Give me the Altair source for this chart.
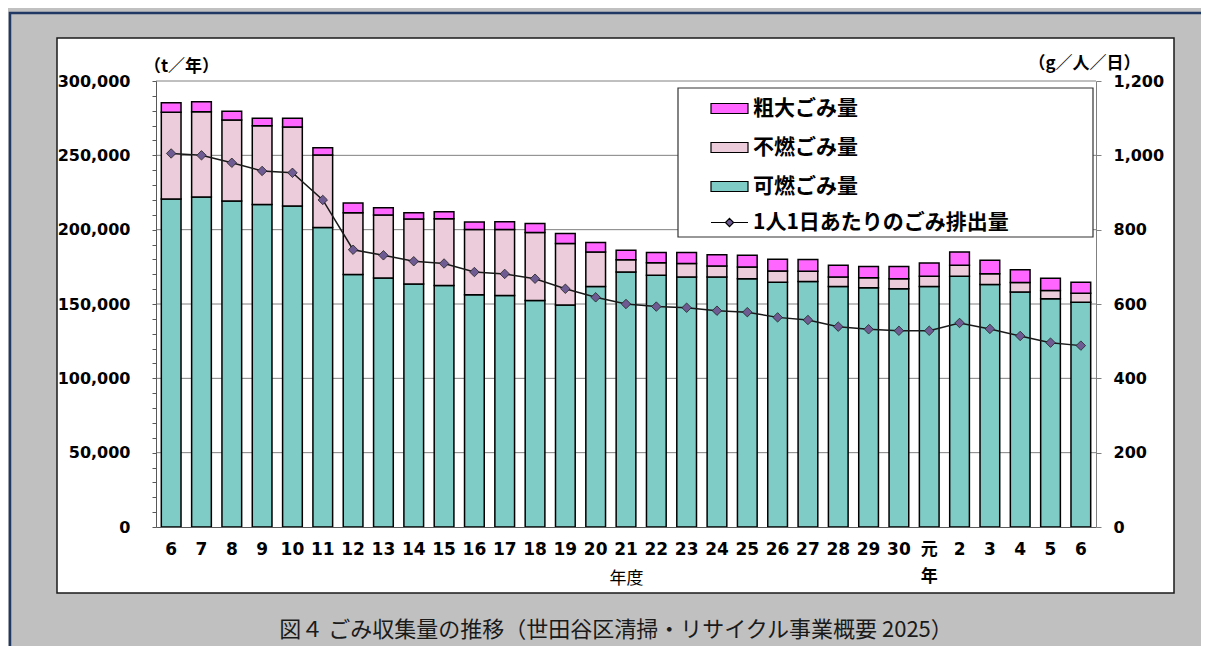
import altair as alt
import pandas as pd

# ---------------- data ----------------
year_labels = ["6", "7", "8", "9", "10", "11", "12", "13", "14", "15", "16", "17",
               "18", "19", "20", "21", "22", "23", "24", "25", "26", "27", "28", "29",
               "30", "元年", "2", "3", "4", "5", "6"]

combustible = [220600, 222000, 219300, 217000, 215900, 201500, 169900, 167500,
               163400, 162500, 156200, 155700, 152400, 149400, 161800, 171500,
               169300, 168100, 168100, 167000, 164700, 165200, 161800, 160900,
               160200, 161800, 168600, 163200, 158000, 153500, 151200]

noncombustible = [58300, 57400, 54500, 52900, 53100, 48800, 41500, 42300, 43700,
                  44800, 43900, 44400, 45700, 41300, 23200, 8300, 8500, 9100, 7400,
                  7900, 7500, 6800, 6300, 6800, 6800, 6800, 7400, 7200, 6500, 5600,
                  6100]

bulky = [6400, 6600, 5800, 5000, 5900, 4800, 6500, 5000, 4300, 4700, 5000, 5200,
         6100, 6700, 6300, 6300, 6800, 7400, 7700, 7900, 7900, 7900, 7900, 7600,
         8300, 9000, 9000, 9000, 8600, 8300, 7400]

per_capita = [1005, 1000, 980, 958, 953, 880, 746, 731, 715, 709, 686, 681, 668,
              641, 618, 600, 593, 590, 582, 578, 564, 557, 539, 532, 528, 528, 549,
              533, 514, 496, 488]

series_names = ["粗大ごみ量", "不燃ごみ量", "可燃ごみ量"]
series_colors = ["#ff66ff", "#ecccda", "#7fcbc6"]
line_name = "1人1日あたりのごみ排出量"
grid_values = [50000, 100000, 150000, 200000, 250000, 300000]
caption = "図４ ごみ収集量の推移（世田谷区清掃・リサイクル事業概要 2025）"

# ---------------- tables ----------------
rows = []
for i in range(len(year_labels)):
    rows.append({"idx": i, "kind": "可燃ごみ量", "ord": 0, "value": combustible[i]})
    rows.append({"idx": i, "kind": "不燃ごみ量", "ord": 1, "value": noncombustible[i]})
    rows.append({"idx": i, "kind": "粗大ごみ量", "ord": 2, "value": bulky[i]})
bars_df = pd.DataFrame(rows)
line_df = pd.DataFrame({"idx": list(range(len(year_labels))), "g": per_capita,
                        "series": [line_name] * len(year_labels)})
grid_df = pd.DataFrame({"gv": grid_values})
one = pd.DataFrame({"a": [0]})

JP = "Noto Sans CJK JP"
NUM = "DejaVu Sans, Noto Sans CJK JP"

items = []
for lab in year_labels:
    if len(lab) == 2 and not lab.isdigit():
        items.append("['%s','%s']" % (lab[0], lab[1]))
    else:
        items.append("'%s'" % lab)
label_expr = "[" + ",".join(items) + "][datum.value]"

W, H = 940, 446

x_enc = alt.X("idx:O", scale=alt.Scale(paddingInner=0.35, paddingOuter=0.175),
              axis=alt.Axis(labelExpr=label_expr, labelAngle=0, labelFont=NUM,
                            labelFontWeight="bold", labelFontSize=17, labelColor="black",
                            labelPadding=14, labelLineHeight=27, ticks=False,
                            domainColor="#595959", domainWidth=1.2,
                            title="年度", titleFont=JP, titleFontSize=17,
                            titleFontWeight="normal", titleColor="black",
                            titleY=51, titleBaseline="middle", zindex=1))

# ---------------- decoration ----------------
frame = alt.Chart(one).mark_rect(fill="#c0c0c0", stroke="#203864", strokeWidth=2.5).encode(
    x=alt.value(-146), x2=alt.value(1100), y=alt.value(-68), y2=alt.value(650))
panel = alt.Chart(one).mark_rect(fill="white", stroke="#1a1a1a", strokeWidth=1.5).encode(
    x=alt.value(-99), x2=alt.value(1018), y=alt.value(-43), y2=alt.value(512))

grid = alt.Chart(grid_df).mark_rule(color="#808080", strokeWidth=1).encode(
    y=alt.Y("gv:Q", scale=alt.Scale(domain=[0, 300000], nice=False), axis=None))

bars = alt.Chart(bars_df).mark_bar(stroke="black", strokeWidth=1.5).encode(
    x=x_enc,
    y=alt.Y("value:Q", stack="zero",
            scale=alt.Scale(domain=[0, 300000], nice=False),
            axis=alt.Axis(orient="left", values=list(range(0, 300001, 10000)),
                          labelExpr="datum.value % 50000 == 0 ? format(datum.value, ',') : ''",
                          labelOverlap=False, labelFont=NUM, labelFontWeight="bold",
                          labelFontSize=16, labelColor="black", labelPadding=22,
                          tickSize=4, tickColor="#595959", domainColor="#595959",
                          grid=False, title="（t／年）", titleAngle=0, titleX=25,
                          titleY=-15, titleAlign="center", titleBaseline="middle",
                          titleFont=JP, titleFontSize=17, titleFontWeight="bold",
                          titleColor="black", zindex=1)),
    fill=alt.Fill("kind:N", scale=alt.Scale(domain=series_names, range=series_colors),
                  legend=alt.Legend(title=None, orient="none", legendX=554, legendY=8,
                                    symbolType="M-1,-0.27H1V0.27H-1Z", symbolSize=1369,
                                    symbolStrokeColor="black", symbolStrokeWidth=1.2,
                                    labelFont=JP, labelFontWeight="bold", labelFontSize=21,
                                    labelColor="black", labelOffset=4, rowPadding=9,
                                    padding=0, labelLimit=500)),
    order=alt.Order("ord:Q", sort="ascending"))

legend_box = alt.Chart(one).mark_rect(fill="white", stroke="#333333", strokeWidth=1.2).encode(
    x=alt.value(522), x2=alt.value(937), y=alt.value(7), y2=alt.value(156))

line = alt.Chart(line_df).mark_line(color="#1a1a1a", strokeWidth=1.5).encode(
    x=x_enc,
    y=alt.Y("g:Q", scale=alt.Scale(domain=[0, 1200], nice=False),
            axis=alt.Axis(orient="right", values=[0, 200, 400, 600, 800, 1000, 1200],
                          labelExpr="format(datum.value, ',')", labelFont=NUM,
                          labelFontWeight="bold",
                          labelFontSize=16, labelColor="black", labelPadding=12,
                          tickSize=5, tickColor="#808080", domainColor="#808080",
                          grid=False, title="（g／人／日）", titleAngle=0, titleX=-12,
                          titleY=-18, titleAlign="center", titleBaseline="middle",
                          titleFont=JP, titleFontSize=17, titleFontWeight="bold",
                          titleColor="black", zindex=1)))

points = alt.Chart(line_df).mark_point(shape="diamond", filled=True, size=90,
                                        stroke="#222222", strokeWidth=0.8, opacity=1).encode(
    x=x_enc,
    y=alt.Y("g:Q", scale=alt.Scale(domain=[0, 1200], nice=False), axis=None),
    fill=alt.Fill("series:N", scale=alt.Scale(domain=[line_name], range=["#6f5b93"]),
                  legend=alt.Legend(title=None, orient="none", legendX=554, legendY=122,
                                    symbolType="M-1,0H-0.22M0.22,0H1M0,-0.22L0.22,0L0,0.22L-0.22,0Z",
                                    symbolSize=1369, symbolStrokeColor="black",
                                    symbolStrokeWidth=1.2, labelFont=JP,
                                    labelFontWeight="bold", labelFontSize=21,
                                    labelColor="black", labelOffset=4, padding=0,
                                    labelLimit=500)))

cap = alt.Chart(pd.DataFrame({"t": [caption]})).mark_text(
    font=JP, fontSize=22, color="#1a1a1a", align="center", baseline="middle").encode(
    text="t:N", x=alt.value(460), y=alt.value(549))

chart = alt.layer(frame, panel, grid, bars, legend_box, line, points, cap).resolve_scale(
    y="independent", fill="independent").properties(
    width=W, height=H,
    autosize=alt.AutoSizeParams(type="none"),
    padding={"left": 148, "top": 73, "right": 105, "bottom": 119},
).configure(background="#c0c0c0").configure_view(stroke=None)

chart.save("out.html", embed_options={"renderer": "svg", "actions": False})
